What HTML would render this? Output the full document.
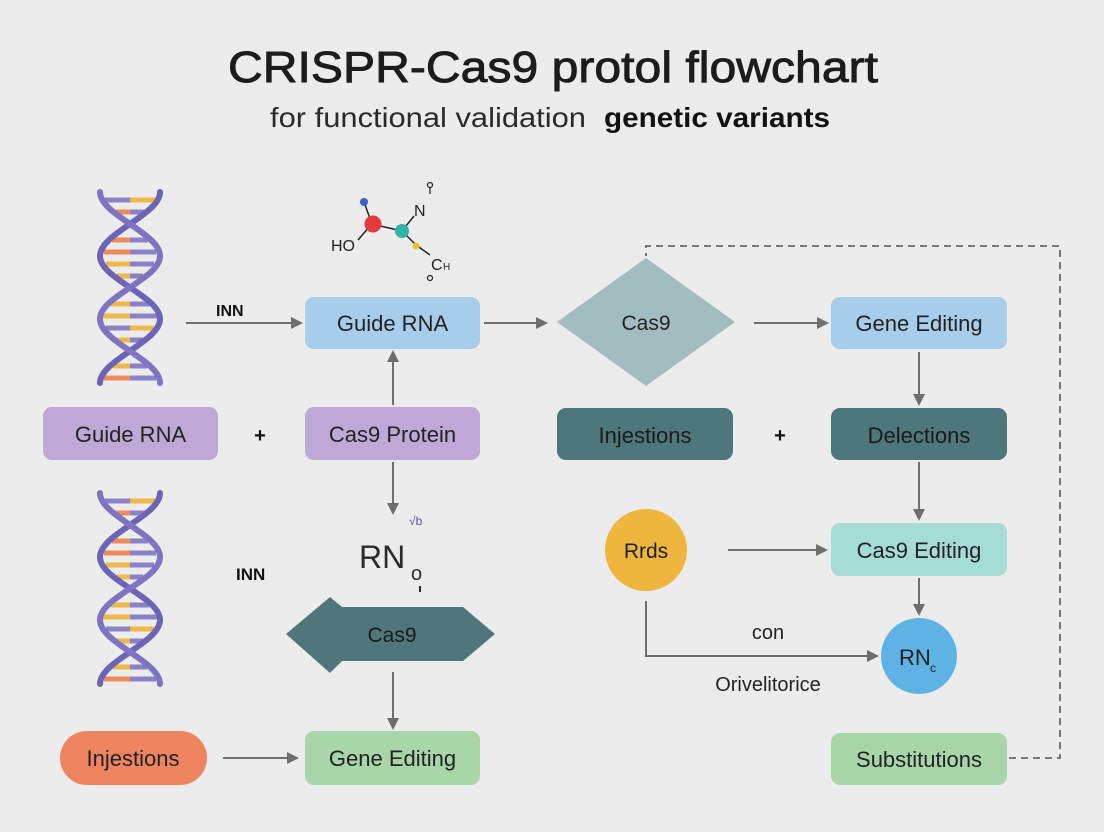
<!DOCTYPE html>
<html><head><meta charset="utf-8"><style>
html,body{margin:0;padding:0;background:#ececec;}
svg{display:block;font-family:"Liberation Sans",sans-serif;}
</style></head><body>
<svg width="1104" height="832" viewBox="0 0 1104 832" xmlns="http://www.w3.org/2000/svg">
<defs>
<marker id="ah" markerWidth="12" markerHeight="12" refX="10" refY="6" orient="auto" markerUnits="userSpaceOnUse"><path d="M0,0 L12,6 L0,12 z" fill="#6e6e6e"/></marker>
<g id="helix">
 <g stroke-width="5" stroke-linecap="butt">
  <line x1="105" y1="200" x2="130" y2="200" stroke="#8a82c8"/><line x1="130" y1="200" x2="155" y2="200" stroke="#efb84a"/>
  <line x1="116" y1="212" x2="130" y2="212" stroke="#ef8a5a"/><line x1="130" y1="212" x2="144" y2="212" stroke="#8a82c8"/>
  <line x1="112" y1="240" x2="130" y2="240" stroke="#ef8a5a"/><line x1="130" y1="240" x2="148" y2="240" stroke="#8a82c8"/>
  <line x1="104" y1="252" x2="130" y2="252" stroke="#ef8a5a"/><line x1="130" y1="252" x2="156" y2="252" stroke="#8a82c8"/>
  <line x1="106" y1="264" x2="130" y2="264" stroke="#efb84a"/><line x1="130" y1="264" x2="154" y2="264" stroke="#8a82c8"/>
  <line x1="117" y1="276" x2="130" y2="276" stroke="#efb84a"/><line x1="130" y1="276" x2="143" y2="276" stroke="#8a82c8"/>
  <line x1="111" y1="304" x2="130" y2="304" stroke="#efb84a"/><line x1="130" y1="304" x2="149" y2="304" stroke="#8a82c8"/>
  <line x1="103" y1="316" x2="130" y2="316" stroke="#efb84a"/><line x1="130" y1="316" x2="157" y2="316" stroke="#8a82c8"/>
  <line x1="106" y1="328" x2="130" y2="328" stroke="#8a82c8"/><line x1="130" y1="328" x2="154" y2="328" stroke="#efb84a"/>
  <line x1="117" y1="340" x2="130" y2="340" stroke="#efb84a"/><line x1="130" y1="340" x2="143" y2="340" stroke="#8a82c8"/>
  <line x1="113" y1="366" x2="130" y2="366" stroke="#efb84a"/><line x1="130" y1="366" x2="147" y2="366" stroke="#8a82c8"/>
  <line x1="104" y1="378" x2="130" y2="378" stroke="#ef8a5a"/><line x1="130" y1="378" x2="156" y2="378" stroke="#8a82c8"/>
 </g>
 <g fill="none" stroke-width="6" stroke-linecap="round">
  <path d="M160,192 C160,215 100,233 100,256 C100,279 160,296 160,319 C160,342 100,360 100,383" stroke="#6c64b4"/>
  <path d="M100,192 C100,215 160,233 160,256 C160,279 100,296 100,319 C100,342 160,360 160,383" stroke="#7d74c2"/>
 </g>
</g>
</defs>

<text x="553" y="82" text-anchor="middle" font-size="44" fill="#1c1c1c" stroke="#1c1c1c" stroke-width="0.9" textLength="650" lengthAdjust="spacingAndGlyphs">CRISPR-Cas9 protol flowchart</text>
<text x="270" y="127" font-size="28" fill="#2a2a2a" textLength="316" lengthAdjust="spacingAndGlyphs">for functional validation</text>
<text x="604" y="127" font-size="28" fill="#111" font-weight="bold" textLength="226" lengthAdjust="spacingAndGlyphs">genetic variants</text>

<use href="#helix"/>
<use href="#helix" transform="translate(0,301)"/>

<g stroke="#222" stroke-width="1.5">
 <line x1="364" y1="202" x2="372" y2="224"/><line x1="372" y1="224" x2="402" y2="231"/>
 <line x1="402" y1="231" x2="414" y2="216"/><line x1="402" y1="231" x2="416" y2="245"/>
 <line x1="416" y1="245" x2="430" y2="255"/><line x1="358" y1="240" x2="370" y2="226"/>
</g>
<circle cx="364" cy="202" r="4" fill="#3a5fcf"/>
<circle cx="373" cy="224" r="8.5" fill="#e33a3a"/>
<circle cx="402" cy="231" r="7" fill="#2fb3a5"/>
<circle cx="416" cy="246" r="3.5" fill="#f0c030"/>
<circle cx="430" cy="185" r="2.5" fill="none" stroke="#222" stroke-width="1.2"/>
<line x1="430" y1="188" x2="430" y2="194" stroke="#222" stroke-width="1.2"/>
<circle cx="430" cy="278" r="2.5" fill="none" stroke="#222" stroke-width="1.2"/>
<text x="331" y="251" font-size="16" fill="#222">HO</text>
<text x="414" y="216" font-size="16" fill="#222">N</text>
<text x="431" y="270" font-size="16" fill="#222">C</text><text x="443" y="270" font-size="10" fill="#222">H</text>

<text x="216" y="316" font-size="16" fill="#111" font-weight="bold">INN</text>
<line x1="186" y1="323" x2="301" y2="323" stroke="#6e6e6e" stroke-width="2" marker-end="url(#ah)"/>
<line x1="393" y1="405" x2="393" y2="352" stroke="#6e6e6e" stroke-width="2" marker-end="url(#ah)"/>
<line x1="393" y1="462" x2="393" y2="513" stroke="#6e6e6e" stroke-width="2" marker-end="url(#ah)"/>
<line x1="393" y1="672" x2="393" y2="728" stroke="#6e6e6e" stroke-width="2" marker-end="url(#ah)"/>
<line x1="223" y1="758" x2="297" y2="758" stroke="#6e6e6e" stroke-width="2" marker-end="url(#ah)"/>
<line x1="484" y1="323" x2="546" y2="323" stroke="#6e6e6e" stroke-width="2" marker-end="url(#ah)"/>

<rect x="305" y="297" width="175" height="52" rx="9" fill="#a8cdea"/>
<text x="392.5" y="331" text-anchor="middle" font-size="22" fill="#222">Guide RNA</text>
<rect x="43" y="407" width="175" height="53" rx="9" fill="#bea8d6"/>
<text x="130.5" y="442" text-anchor="middle" font-size="22" fill="#222">Guide RNA</text>
<text x="260" y="442" text-anchor="middle" font-size="20" fill="#111" font-weight="bold">+</text>
<rect x="305" y="407" width="175" height="53" rx="9" fill="#bea8d6"/>
<text x="392.5" y="442" text-anchor="middle" font-size="22" fill="#222">Cas9 Protein</text>

<text x="409" y="525" font-size="12" fill="#5a50a0">√b</text>
<text x="359" y="568" font-size="32" fill="#2a2a2a">RN</text>
<text x="411" y="580" font-size="20" fill="#2a2a2a">o</text>
<line x1="420" y1="586" x2="420" y2="592" stroke="#2a2a2a" stroke-width="2"/>
<text x="236" y="580" font-size="17" fill="#111" font-weight="bold">INN</text>

<polygon points="286,634 330,597 342,607 463,607 495,634 463,661 342,661 330,673" fill="#4e767b"/>
<text x="392" y="642" text-anchor="middle" font-size="21" fill="#1a1a1a">Cas9</text>

<rect x="60" y="731" width="147" height="54" rx="27" fill="#ef8461"/>
<text x="133" y="766" text-anchor="middle" font-size="22" fill="#222">Injestions</text>
<rect x="305" y="731" width="175" height="54" rx="9" fill="#a9d6a9"/>
<text x="392.5" y="766" text-anchor="middle" font-size="22" fill="#222">Gene Editing</text>

<path d="M1009,758 L1060,758 L1060,246 L646,246 L646,256" fill="none" stroke="#777" stroke-width="2" stroke-dasharray="7,5"/>
<polygon points="646,258 735,322 646,386 557,322" fill="#a3bcc0"/>
<text x="646" y="330" text-anchor="middle" font-size="21" fill="#222">Cas9</text>
<line x1="754" y1="323" x2="827" y2="323" stroke="#6e6e6e" stroke-width="2" marker-end="url(#ah)"/>
<rect x="831" y="297" width="176" height="52" rx="9" fill="#a8cdea"/>
<text x="919" y="331" text-anchor="middle" font-size="22" fill="#222">Gene Editing</text>

<line x1="919" y1="352" x2="919" y2="404" stroke="#6e6e6e" stroke-width="2" marker-end="url(#ah)"/>
<rect x="557" y="408" width="176" height="52" rx="9" fill="#4e777c"/>
<text x="645" y="443" text-anchor="middle" font-size="22" fill="#1a1a1a">Injestions</text>
<text x="780" y="442" text-anchor="middle" font-size="20" fill="#111" font-weight="bold">+</text>
<rect x="831" y="408" width="176" height="52" rx="9" fill="#4e777c"/>
<text x="919" y="443" text-anchor="middle" font-size="22" fill="#1a1a1a">Delections</text>

<line x1="919" y1="462" x2="919" y2="519" stroke="#6e6e6e" stroke-width="2" marker-end="url(#ah)"/>
<circle cx="646" cy="550" r="41" fill="#efb63f"/>
<text x="646" y="558" text-anchor="middle" font-size="21" fill="#222">Rrds</text>
<line x1="728" y1="550" x2="826" y2="550" stroke="#6e6e6e" stroke-width="2" marker-end="url(#ah)"/>
<rect x="831" y="523" width="176" height="53" rx="9" fill="#a6dcd6"/>
<text x="919" y="558" text-anchor="middle" font-size="22" fill="#222">Cas9 Editing</text>

<line x1="919" y1="578" x2="919" y2="614" stroke="#6e6e6e" stroke-width="2" marker-end="url(#ah)"/>
<path d="M646,601 L646,656 L877,656" fill="none" stroke="#6e6e6e" stroke-width="2" marker-end="url(#ah)"/>
<text x="768" y="639" text-anchor="middle" font-size="20" fill="#222">con</text>
<text x="768" y="691" text-anchor="middle" font-size="20" fill="#222">Orivelitorice</text>
<circle cx="919" cy="656" r="38" fill="#5eb3e4"/>
<text x="899" y="665" font-size="22" fill="#222">RN</text><text x="930" y="672" font-size="12" fill="#222">c</text>

<rect x="831" y="733" width="176" height="52" rx="9" fill="#a9d6a9"/>
<text x="919" y="767" text-anchor="middle" font-size="22" fill="#222">Substitutions</text>
</svg>
</body></html>
